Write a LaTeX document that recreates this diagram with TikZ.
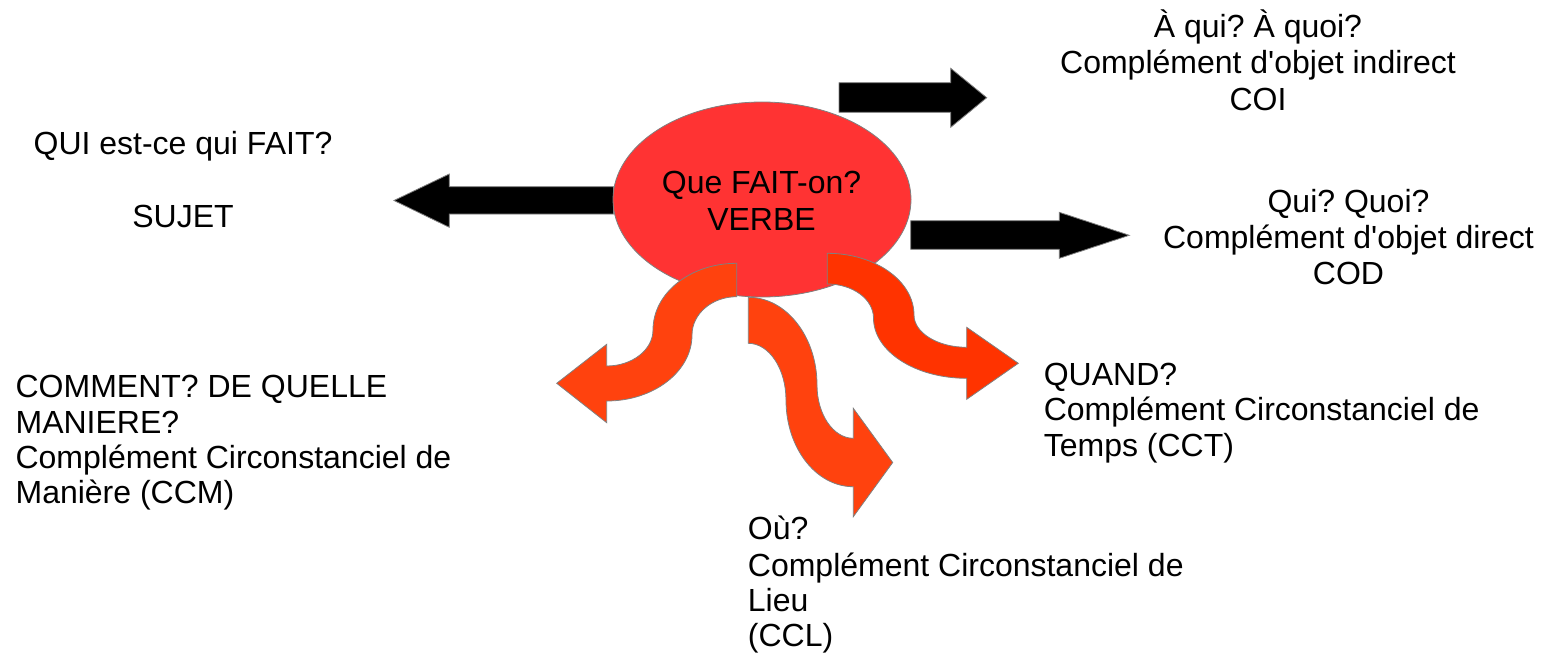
\documentclass[tikz,border=0pt]{standalone}
\usepackage{fontspec}
\setmainfont{Liberation Sans}
\usetikzlibrary{shapes.geometric}
\definecolor{ellred}{HTML}{FF3333}
\definecolor{orng}{HTML}{FF420E}
\definecolor{redor}{HTML}{FF3300}
\definecolor{edgegray}{HTML}{808080}
\frenchspacing
\begin{document}
\begin{tikzpicture}[x=1pt,y=-1pt,
  txt/.style={inner sep=0pt, font=\fontsize{32}{36}\selectfont},
  blockarrow/.style={fill=black, draw=edgegray, line width=0.8pt, line join=miter},
  curvyarrow/.style={draw=edgegray, line width=0.8pt, line join=miter}]
\useasboundingbox (0,0) rectangle (1545,666);

% black straight arrows
\draw[blockarrow] (613.5,186.7) -- (449.3,186.7) -- (449.3,174) -- (394,200.5)
  -- (449.3,227.3) -- (449.3,214) -- (613.5,214) -- cycle;
\draw[blockarrow] (839,82.7) -- (950.7,82.7) -- (950.7,68.3) -- (986.7,97.7)
  -- (950.7,127.3) -- (950.7,112.3) -- (839,112.3) -- cycle;
\draw[blockarrow] (910.7,220.7) -- (1059.3,220.7) -- (1059.3,212.3) -- (1129.3,235.3)
  -- (1059.3,258.3) -- (1059.3,249.3) -- (910.7,249.3) -- cycle;

% central ellipse
\node[ellipse, fill=ellred, draw=edgegray, line width=0.8pt, inner sep=0pt,
  minimum width=298pt, minimum height=195pt] (verbe) at (762,199.5) {};

% curved arrow: CCM
\draw[curvyarrow, fill=orng] (736.7,263.3)
  .. controls (690.3,263.3) and (653,293) .. (653,330)
  .. controls (653,349.9) and (632.1,366) .. (606.7,366)
  -- (606.7,344.3) -- (556.7,383.3) -- (606.7,422.7) -- (606.7,401)
  .. controls (653.7,401) and (692,371.5) .. (692,335)
  .. controls (692,313.8) and (712,296.7) .. (736.7,296.7) -- cycle;

% curved arrow: CCL
\draw[curvyarrow, fill=orng] (748.3,297.3)
  .. controls (786.2,297.3) and (817,336.6) .. (817,385)
  .. controls (817,414.4) and (833.3,438.3) .. (853.3,438.3)
  -- (853.3,408.3) -- (892.7,462.5) -- (853.3,516.7) -- (853.3,486.7)
  .. controls (816.1,486.7) and (786,447.9) .. (786,400)
  .. controls (786,368.7) and (769.1,343.3) .. (748.3,343.3) -- cycle;

% curved arrow: CCT
\draw[curvyarrow, fill=redor] (827.3,253.3)
  .. controls (875.2,253.3) and (914,280.9) .. (914,315)
  .. controls (914,332.8) and (937.6,347.3) .. (966.7,347.3)
  -- (966.7,327.3) -- (1018.3,363.3) -- (966.7,399.3) -- (966.7,378.3)
  .. controls (915.2,378.3) and (873.5,351.3) .. (873.5,318)
  .. controls (873.5,299.2) and (852.8,284) .. (827.3,284) -- cycle;

% texts
\node[txt, anchor=base] (v1) at (761.5,193.3) {Que FAIT-on?};
\node[txt, anchor=base] (v2) at (761.5,230) {VERBE};

\node[txt, anchor=base] (s1) at (183,154) {QUI est-ce qui FAIT?};
\node[txt, anchor=base] (s2) at (183,227.3) {SUJET};

\node[txt, anchor=base] (i1) at (1258,37.3) {À qui? À quoi?};
\node[txt, anchor=base] (i2) at (1258,74) {Complément d\textquotesingle objet indirect};
\node[txt, anchor=base] (i3) at (1258,110.5) {COI};

\node[txt, anchor=base] (d1) at (1348.5,212.3) {Qui? Quoi?};
\node[txt, anchor=base] (d2) at (1348.5,248.3) {Complément d\textquotesingle objet direct};
\node[txt, anchor=base] (d3) at (1348.5,284.3) {COD};

\node[txt, anchor=base west] (m1) at (15.4,397.3) {COMMENT? DE QUELLE};
\node[txt, anchor=base west] (m2) at (15.4,433.3) {MANIERE?};
\node[txt, anchor=base west] (m3) at (15.4,468.3) {Complément Circonstanciel de};
\node[txt, anchor=base west] (m4) at (15.4,503.3) {Manière (CCM)};

\node[txt, anchor=base west] (t1) at (1043.6,385) {QUAND?};
\node[txt, anchor=base west] (t2) at (1043.6,420.7) {Complément Circonstanciel de};
\node[txt, anchor=base west] (t3) at (1043.6,456) {Temps (CCT)};

\node[txt, anchor=base west] (l1) at (747.7,539.3) {Où?};
\node[txt, anchor=base west] (l2) at (747.7,576) {Complément Circonstanciel de};
\node[txt, anchor=base west] (l3) at (747.7,611.7) {Lieu};
\node[txt, anchor=base west] (l4) at (747.7,646.7) {(CCL)};
\end{tikzpicture}
\end{document}
